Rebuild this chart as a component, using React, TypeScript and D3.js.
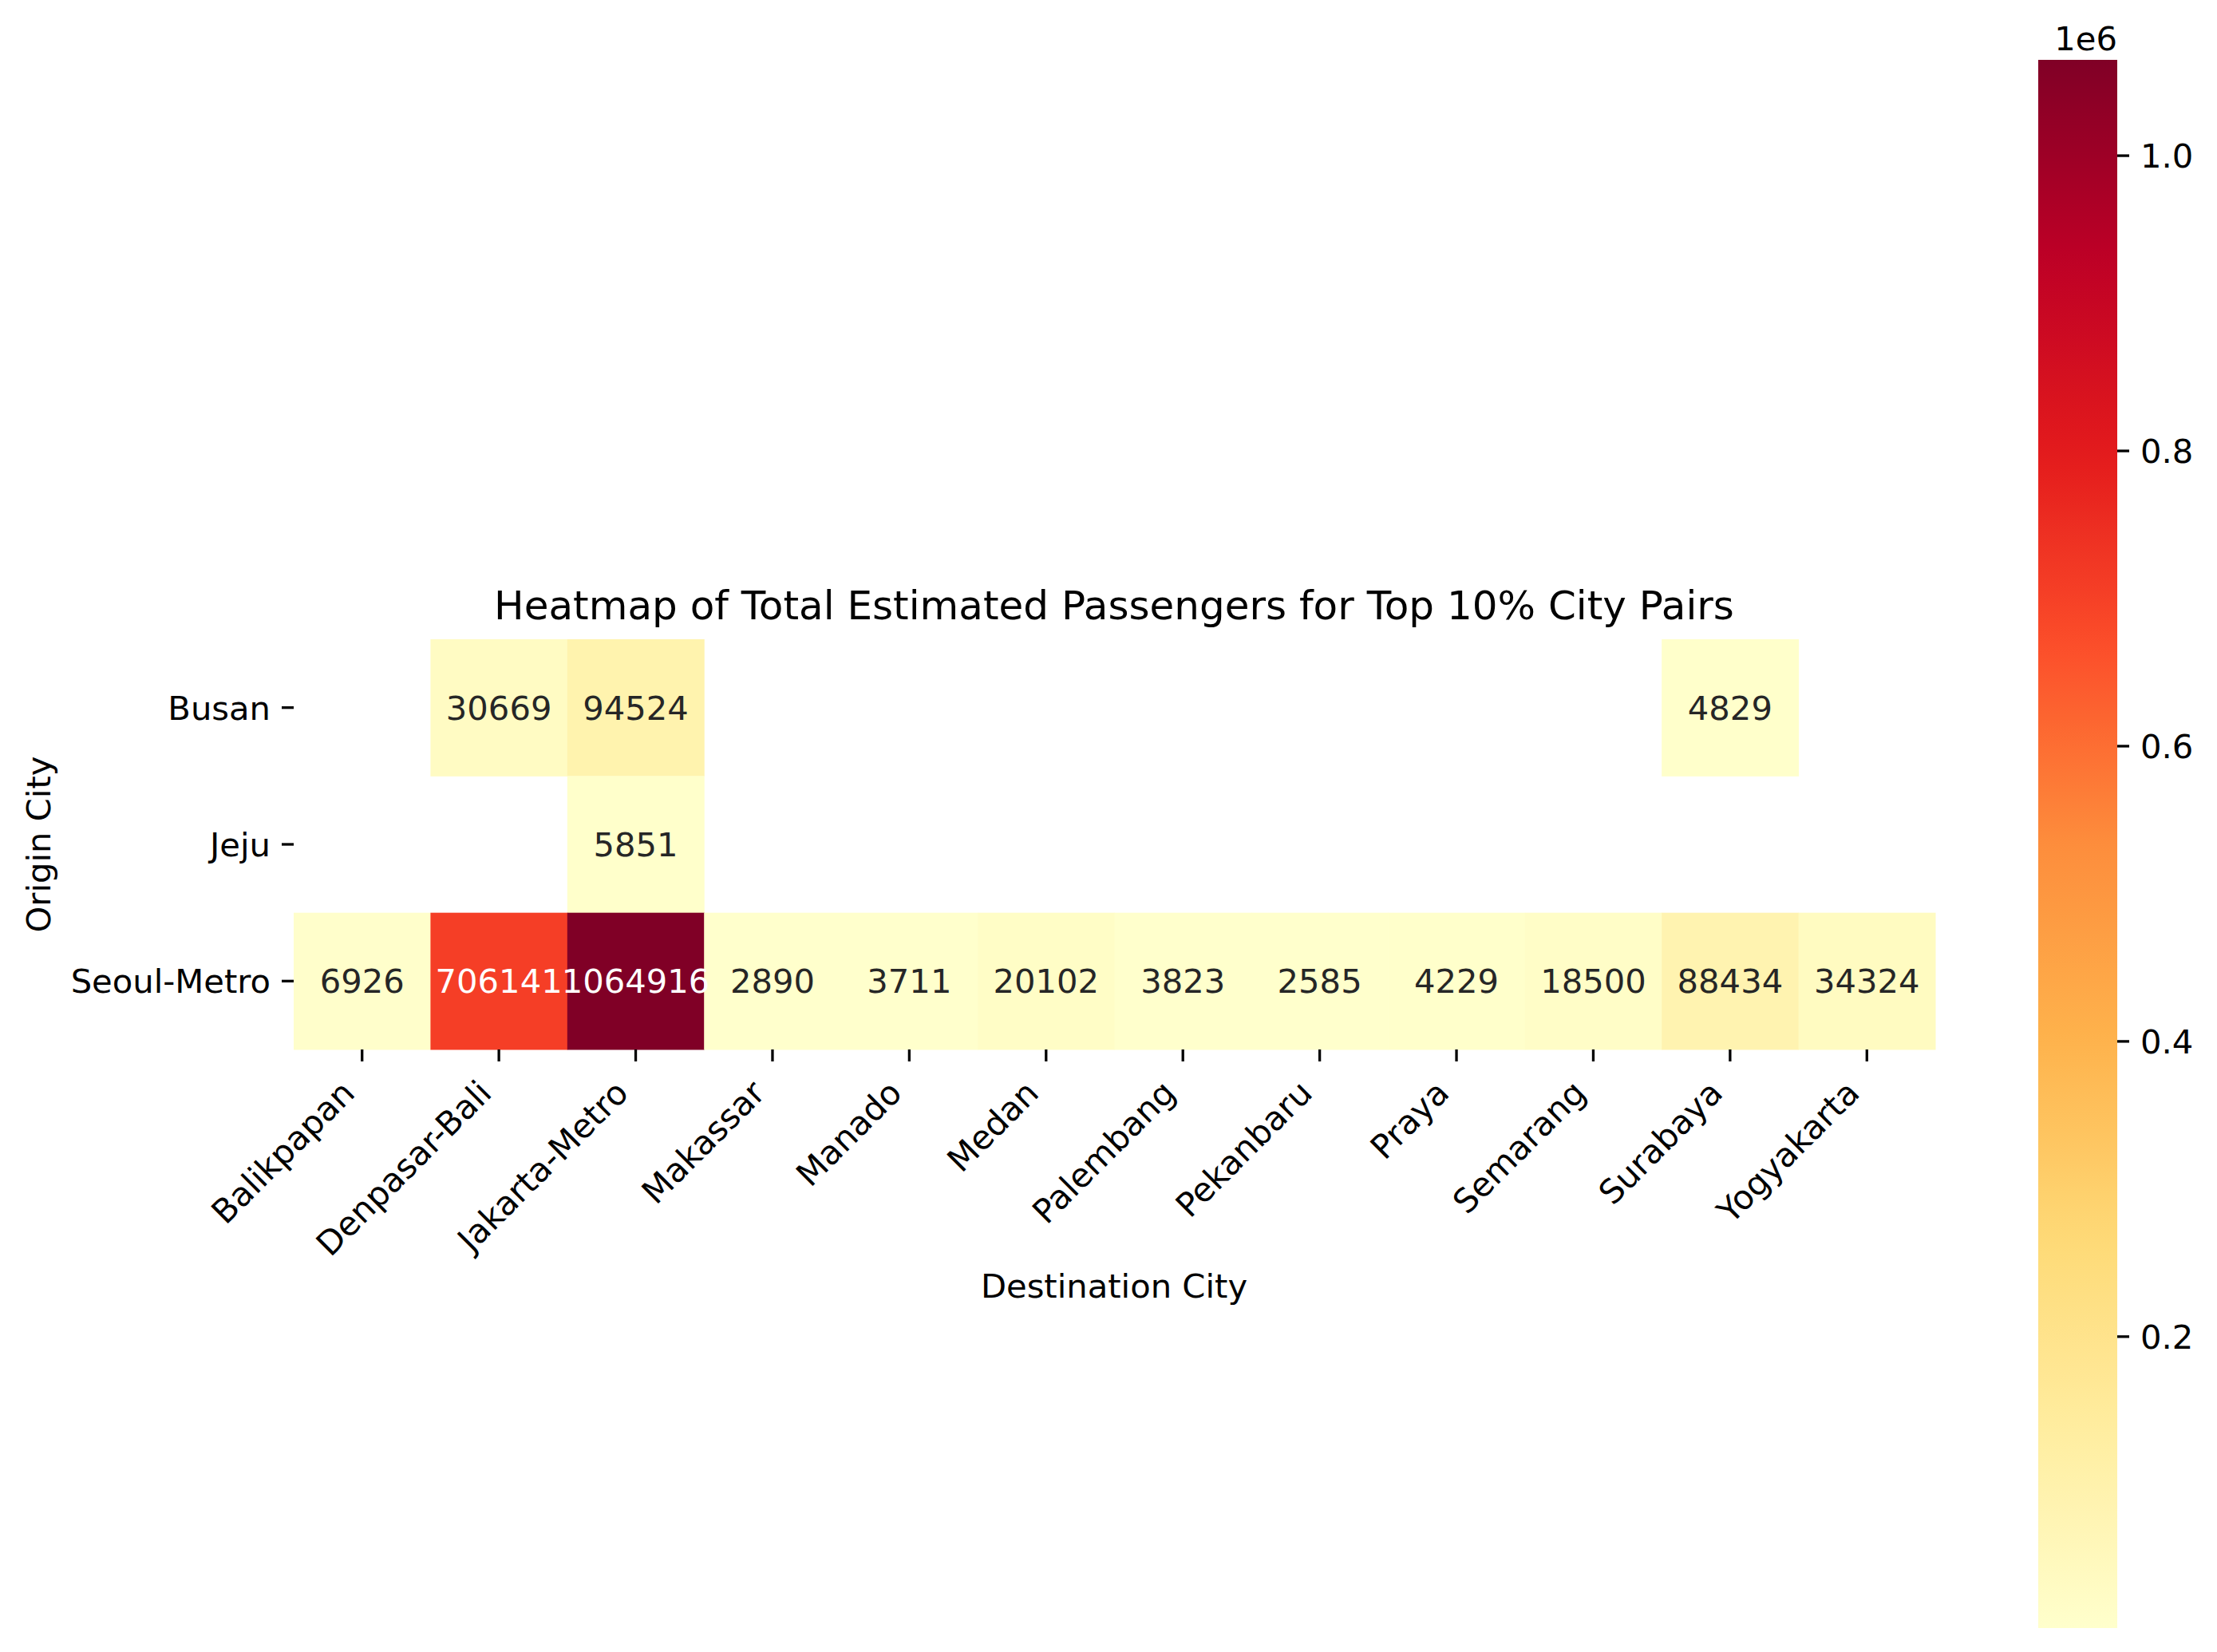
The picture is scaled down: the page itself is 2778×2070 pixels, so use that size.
import { useEffect, useRef } from "react";
import * as d3 from "d3";

const origins = ["Busan", "Jeju", "Seoul-Metro"];
const destinations = [
    "Balikpapan", "Denpasar-Bali", "Jakarta-Metro", "Makassar", "Manado", "Medan",
    "Palembang", "Pekanbaru", "Praya", "Semarang", "Surabaya", "Yogyakarta",
];
// null = no flights in the top 10% for that pair
const busanValues = [null, 30669, 94524, null, null, null, null, null, null, null, 4829, null];
const jejuValues = [null, null, 5851, null, null, null, null, null, null, null, null, null];
const seoulValues = [6926, 706141, 1064916, 2890, 3711, 20102, 3823, 2585, 4229, 18500, 88434, 34324];
const colorbarTicks = [200000, 400000, 600000, 800000, 1000000];

// matplotlib YlOrRd anchors
const ylOrRd = ["#ffffcc", "#ffeda0", "#fed976", "#feb24c", "#fd8d3c", "#fc4e2a", "#e31a1c", "#bd0026", "#800026"];

const FONT = "DejaVu Sans, sans-serif";
const FS = 41.7;

const App = () => {
    const ref = useRef<SVGSVGElement>(null);

    useEffect(() => {
        if (!ref.current) return;
        const svg = d3.select(ref.current);
        svg.selectAll("*").remove();

        const rows = [busanValues, jejuValues, seoulValues];
        const cells = rows.flatMap((vals, r) =>
            vals.map((v, c) => ({ origin: origins[r], dest: destinations[c], value: v }))
        ).filter((d) => d.value !== null) as { origin: string; dest: string; value: number }[];

        const all = cells.map((d) => d.value);
        const vmin = d3.min(all)!;
        const vmax = d3.max(all)!;

        const x = d3.scaleBand().domain(destinations).range([368, 2425]).padding(0);
        const y = d3.scaleBand().domain(origins).range([801, 1315]).padding(0);

        const norm = d3.scaleLinear().domain([vmin, vmax]).range([0, 1]).clamp(true);
        const cmap = d3.scaleLinear<string>()
            .domain(ylOrRd.map((_, i) => i / (ylOrRd.length - 1)))
            .range(ylOrRd)
            .interpolate(d3.interpolateRgb);
        const color = (v: number) => cmap(norm(v));

        // cells
        svg.append("g")
            .selectAll("rect")
            .data(cells)
            .join("rect")
            .attr("x", (d) => x(d.dest)!)
            .attr("y", (d) => y(d.origin)!)
            .attr("width", x.bandwidth() + 0.5)
            .attr("height", y.bandwidth() + 0.5)
            .attr("fill", (d) => color(d.value));

        // annotations
        svg.append("g")
            .selectAll("text")
            .data(cells)
            .join("text")
            .attr("x", (d) => x(d.dest)! + x.bandwidth() / 2)
            .attr("y", (d) => y(d.origin)! + y.bandwidth() / 2)
            .attr("text-anchor", "middle")
            .attr("dy", "0.36em")
            .attr("font-family", FONT)
            .attr("font-size", FS)
            .attr("fill", (d) => {
                const c = d3.rgb(color(d.value));
                const lum = (0.2126 * c.r + 0.7152 * c.g + 0.0722 * c.b) / 255;
                return lum < 0.408 ? "#ffffff" : "#262626";
            })
            .text((d) => String(d.value));

        // x ticks
        const xt = svg.append("g");
        destinations.forEach((d) => {
            const cx = x(d)! + x.bandwidth() / 2;
            xt.append("line")
                .attr("x1", cx).attr("x2", cx)
                .attr("y1", 1315).attr("y2", 1330)
                .attr("stroke", "#000").attr("stroke-width", 3.3);
            xt.append("text")
                .attr("transform", `translate(${cx - 7},${1372}) rotate(-45)`)
                .attr("text-anchor", "end")
                .attr("font-family", FONT)
                .attr("font-size", FS)
                .attr("fill", "#000")
                .text(d);
        });

        // y ticks
        const yt = svg.append("g");
        origins.forEach((o) => {
            const cy = y(o)! + y.bandwidth() / 2;
            yt.append("line")
                .attr("x1", 353).attr("x2", 368)
                .attr("y1", cy).attr("y2", cy)
                .attr("stroke", "#000").attr("stroke-width", 3.3);
            yt.append("text")
                .attr("x", 339)
                .attr("y", cy)
                .attr("dy", "0.36em")
                .attr("text-anchor", "end")
                .attr("font-family", FONT)
                .attr("font-size", FS)
                .attr("fill", "#000")
                .text(o);
        });

        // title and axis labels
        svg.append("text")
            .attr("x", 1396).attr("y", 776)
            .attr("text-anchor", "middle")
            .attr("font-family", FONT)
            .attr("font-size", 50)
            .text("Heatmap of Total Estimated Passengers for Top 10% City Pairs");

        svg.append("text")
            .attr("x", 1396).attr("y", 1626)
            .attr("text-anchor", "middle")
            .attr("font-family", FONT)
            .attr("font-size", FS)
            .text("Destination City");

        svg.append("text")
            .attr("transform", `translate(63,1058) rotate(-90)`)
            .attr("text-anchor", "middle")
            .attr("font-family", FONT)
            .attr("font-size", FS)
            .text("Origin City");

        // colorbar
        const cbX = 2554, cbW = 99;
        const cy = d3.scaleLinear().domain([vmin, vmax]).range([2040, 75]);
        const grad = svg.append("defs").append("linearGradient")
            .attr("id", "cbgrad")
            .attr("x1", 0).attr("y1", 1).attr("x2", 0).attr("y2", 0);
        d3.range(0, 1.0001, 0.02).forEach((t) => {
            grad.append("stop").attr("offset", t).attr("stop-color", cmap(t));
        });
        svg.append("rect")
            .attr("x", cbX).attr("y", cy(vmax))
            .attr("width", cbW).attr("height", cy(vmin) - cy(vmax))
            .attr("fill", "url(#cbgrad)");

        const cbt = svg.append("g");
        colorbarTicks.forEach((t) => {
            cbt.append("line")
                .attr("x1", cbX + cbW).attr("x2", cbX + cbW + 15)
                .attr("y1", cy(t)).attr("y2", cy(t))
                .attr("stroke", "#000").attr("stroke-width", 3.3);
            cbt.append("text")
                .attr("x", cbX + cbW + 29)
                .attr("y", cy(t))
                .attr("dy", "0.36em")
                .attr("font-family", FONT)
                .attr("font-size", FS)
                .text((t / 1e6).toFixed(1));
        });
        svg.append("text")
            .attr("x", cbX + cbW)
            .attr("y", 63)
            .attr("text-anchor", "end")
            .attr("font-family", FONT)
            .attr("font-size", FS)
            .text("1e6");
    }, []);

    return (
        <svg
            ref={ref}
            width={2778}
            height={2070}
            style={{ position: "absolute", left: 0, top: 0, background: "#fff" }}
        />
    );
};

export default App;
